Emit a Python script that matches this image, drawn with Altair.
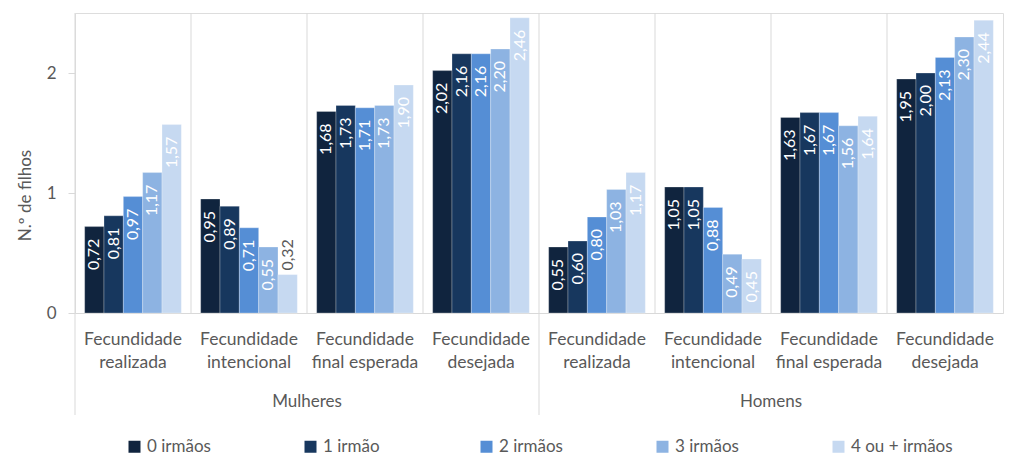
import altair as alt
import pandas as pd

genders = ["Mulheres", "Homens"]
categories = ["Fecundidade realizada", "Fecundidade intencional",
              "Fecundidade final esperada", "Fecundidade desejada"]
category_labels = ["Fecundidade|realizada", "Fecundidade|intencional",
                   "Fecundidade|final esperada", "Fecundidade|desejada"]
series = ["0 irmãos", "1 irmão", "2 irmãos", "3 irmãos", "4 ou + irmãos"]
colors = ["#10243e", "#17375e", "#558ed5", "#8db3e2", "#c6d9f1"]

mulheres_realizada = [0.72, 0.81, 0.97, 1.17, 1.57]
mulheres_intencional = [0.95, 0.89, 0.71, 0.55, 0.32]
mulheres_final = [1.68, 1.73, 1.71, 1.73, 1.90]
mulheres_desejada = [2.02, 2.16, 2.16, 2.20, 2.46]
homens_realizada = [0.55, 0.60, 0.80, 1.03, 1.17]
homens_intencional = [1.05, 1.05, 0.88, 0.49, 0.45]
homens_final = [1.63, 1.67, 1.67, 1.56, 1.64]
homens_desejada = [1.95, 2.00, 2.13, 2.30, 2.44]

values = {
    "Mulheres": [mulheres_realizada, mulheres_intencional, mulheres_final, mulheres_desejada],
    "Homens": [homens_realizada, homens_intencional, homens_final, homens_desejada],
}

keys = [f"{g}|{c}" for g in genders for c in categories]

rows = []
for g in genders:
    for c, vals in zip(categories, values[g]):
        for s, v in zip(series, vals):
            rows.append({"key": f"{g}|{c}", "series": s, "value": v,
                         "label": f"{v:.2f}".replace(".", ",")})
df = pd.DataFrame(rows)

cat_df = pd.DataFrame([{"key": f"{g}|{c}", "text": lab}
                       for g in genders for c, lab in zip(categories, category_labels)])
rules_df = pd.DataFrame([{"key": f"{g}|{c}", "long": i == 0}
                         for g in genders for i, c in enumerate(categories)])
gender_df = pd.DataFrame([{"key": f"{g}|{categories[2]}", "text": g} for g in genders])

GRAY = "#595959"
LINE = "#d9d9d9"
FONT = "Lato"


def xenc(**kw):
    return alt.X("key:N", sort=keys,
                 scale=alt.Scale(paddingInner=0, paddingOuter=0),
                 axis=alt.Axis(labels=False, ticks=False, title=None,
                               domainColor=LINE, domainWidth=1),
                 **kw)


xoff = alt.XOffset("series:N", sort=series,
                   scale=alt.Scale(paddingInner=0, paddingOuter=0.5))

yenc = alt.Y("value:Q", scale=alt.Scale(domain=[0, 2.5], nice=False),
             axis=alt.Axis(values=[0, 1, 2], grid=False, domain=False,
                           tickSize=7, tickColor=LINE, labelColor=GRAY,
                           labelFontSize=17, labelPadding=12, labelFont=FONT,
                           title="N.º de filhos", titleX=-50, titleY=182,
                           titleFontSize=17, titleFontWeight="normal",
                           titleColor=GRAY, titleFont=FONT, titleAngle=270,
                           titleAlign="center", titleBaseline="middle"))

bars = alt.Chart(df).mark_bar(stroke="white", strokeWidth=0.6, strokeOpacity=0.45).encode(
    x=xenc(), xOffset=xoff, y=yenc,
    color=alt.Color("series:N", sort=series,
                    scale=alt.Scale(domain=series, range=colors),
                    legend=alt.Legend(orient="none", legendX=51, legendY=425,
                                      direction="horizontal", columns=5,
                                      gridAlign="all", columnPadding=53,
                                      symbolType="square", symbolSize=144,
                                      symbolStrokeWidth=0, labelFontSize=17,
                                      labelColor=GRAY, labelFont=FONT,
                                      title=None, labelLimit=300, padding=0)),
)

labels_in = alt.Chart(df).transform_filter("datum.value >= 0.4").mark_text(
    angle=270, align="right", baseline="middle", dx=-12, color="white",
    fontSize=16, font=FONT
).encode(x=xenc(), xOffset=xoff, y=yenc, text="label:N")

labels_out = alt.Chart(df).transform_filter("datum.value < 0.4").mark_text(
    angle=270, align="left", baseline="middle", dx=4, color=GRAY,
    fontSize=16, font=FONT
).encode(x=xenc(), xOffset=xoff, y=yenc, text="label:N")

rule_short = alt.Chart(rules_df).transform_filter("!datum.long").mark_rule(
    color=LINE, strokeWidth=1
).encode(x=xenc(bandPosition=0), y=alt.value(0), y2=alt.value(300))

rule_long = alt.Chart(rules_df).transform_filter("datum.long").mark_rule(
    color=LINE, strokeWidth=1
).encode(x=xenc(bandPosition=0), y=alt.value(0), y2=alt.value(402))

cat_text = alt.Chart(cat_df).mark_text(
    lineBreak="|", fontSize=17.5, color=GRAY, baseline="middle", lineHeight=23,
    font=FONT
).encode(x=xenc(), y=alt.value(327), text="text:N")

gender_text = alt.Chart(gender_df).mark_text(
    fontSize=17, color=GRAY, baseline="middle", font=FONT
).encode(x=xenc(bandPosition=0), y=alt.value(389), text="text:N")

chart = alt.layer(rule_short, rule_long, bars, labels_in, labels_out,
                  cat_text, gender_text).properties(
    width=928, height=300,
    padding={"left": 67, "top": 5, "right": 3, "bottom": 142},
    autosize="none",
).configure_view(stroke=None).configure(font=FONT)

chart.save("out.html", embed_options={"renderer": "svg", "actions": False})
